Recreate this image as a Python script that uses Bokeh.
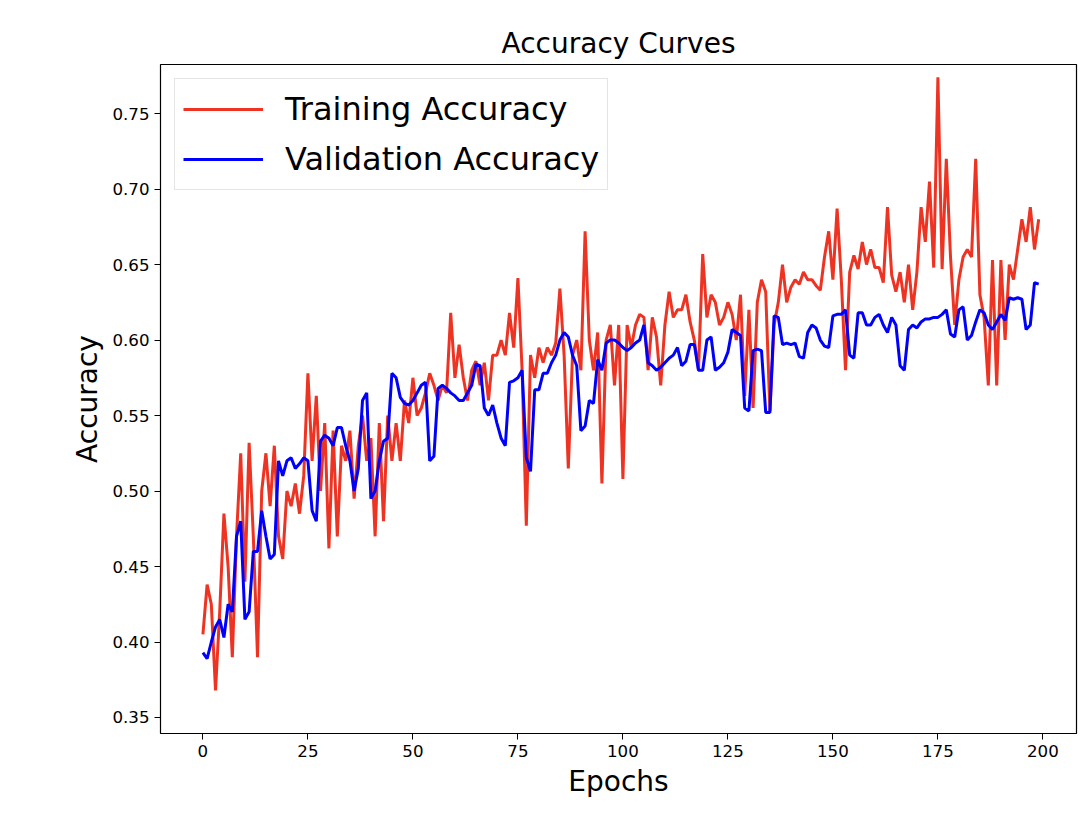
from bokeh.plotting import figure
from bokeh.models import Range1d, Legend, LegendItem, FixedTicker, CustomJSTickFormatter
from bokeh.embed import file_html
from bokeh.resources import INLINE

train_acc = [.405,.438,.425,.368,.42,.485,.45,.39,.47,.525,.44,.532,.47,.39,.50,.525,.49,.53,.47,.455,
.50,.49,.505,.485,.51,.578,.52,.563,.50,.545,.462,.54,.47,.53,.52,.54,.495,.53,.55,.52,
.535,.47,.545,.48,.55,.52,.545,.52,.56,.545,.575,.55,.555,.565,.578,.57,.56,.57,.565,.618,
.575,.597,.575,.56,.58,.586,.57,.585,.56,.59,.59,.60,.59,.618,.595,.641,.58,.477,.59,.575,
.595,.585,.595,.59,.598,.634,.59,.515,.59,.60,.58,.672,.60,.58,.605,.505,.60,.61,.57,.61,
.508,.61,.595,.61,.617,.615,.58,.615,.602,.57,.61,.632,.615,.62,.62,.63,.612,.60,.58,.657,
.615,.63,.625,.61,.615,.625,.617,.60,.63,.563,.62,.555,.625,.64,.632,.553,.61,.625,.65,.625,
.635,.64,.637,.645,.64,.64,.636,.633,.655,.672,.64,.687,.64,.58,.645,.656,.647,.665,.65,.66,
.648,.648,.638,.688,.643,.632,.645,.625,.65,.62,.645,.688,.665,.705,.648,.774,.647,.72,.655,.61,
.64,.655,.66,.655,.72,.63,.615,.57,.653,.57,.653,.60,.65,.64,.66,.68,.665,.688,.66,.68]

val_acc = [.393,.389,.40,.41,.415,.403,.425,.42,.47,.48,.415,.42,.46,.46,.487,.47,.455,.458,.52,.51,
.52,.522,.515,.518,.522,.52,.487,.48,.533,.537,.535,.53,.542,.542,.53,.52,.50,.515,.56,.565,
.495,.50,.52,.533,.535,.578,.575,.562,.558,.557,.56,.565,.57,.572,.52,.523,.568,.57,.568,.565,
.563,.56,.56,.565,.57,.584,.583,.555,.55,.557,.545,.535,.53,.572,.573,.575,.58,.522,.513,.567,
.567,.578,.578,.585,.59,.60,.605,.602,.59,.583,.54,.543,.56,.558,.587,.58,.598,.60,.60,.598,
.595,.593,.595,.598,.60,.61,.585,.583,.58,.582,.585,.588,.59,.595,.583,.586,.597,.597,.58,.58,
.60,.602,.58,.582,.585,.592,.607,.605,.603,.555,.553,.593,.594,.593,.552,.552,.616,.615,.597,.598,
.597,.598,.589,.588,.605,.61,.608,.60,.596,.595,.616,.617,.617,.62,.59,.588,.618,.618,.61,.61,
.615,.617,.61,.605,.615,.61,.583,.58,.607,.61,.608,.612,.614,.614,.615,.615,.617,.62,.604,.602,
.62,.622,.60,.603,.612,.62,.618,.61,.607,.612,.617,.613,.628,.627,.628,.627,.607,.61,.638,.637]

epochs = list(range(len(train_acc)))
x_ticks = [0, 25, 50, 75, 100, 125, 150, 175, 200]
y_ticks = [0.35, 0.40, 0.45, 0.50, 0.55, 0.60, 0.65, 0.70, 0.75]

p = figure(width=1080, height=800, output_backend="svg", toolbar_location=None,
           x_range=Range1d(-10.1, 208.0), y_range=Range1d(0.3394, 0.7825),
           title="Accuracy Curves", min_border_left=160, min_border_right=4,
           min_border_top=64, min_border_bottom=66)
p.title.align = "center"
p.title.text_font = "DejaVu Sans"
p.title.text_font_size = "21pt"
p.title.text_font_style = "normal"
p.title.text_color = "black"
p.xgrid.visible = False
p.ygrid.visible = False
p.outline_line_color = "black"
p.outline_line_width = 1.2

r1 = p.line(epochs, train_acc, line_color="#ee3322", line_width=3)
r2 = p.line(epochs, val_acc, line_color="#0000ff", line_width=3)

for ax in (p.xaxis[0], p.yaxis[0]):
    ax.minor_tick_line_color = None
    ax.major_tick_out = 6
    ax.major_tick_in = 0
    ax.major_tick_line_color = "black"
    ax.major_label_text_font = "DejaVu Sans"
    ax.major_label_text_font_size = "12.5pt"
    ax.major_label_text_color = "black"
    ax.axis_label_text_font = "DejaVu Sans"
    ax.axis_label_text_font_size = "21pt"
    ax.axis_label_text_font_style = "normal"
    ax.axis_label_text_color = "black"
    ax.axis_line_color = None
p.xaxis.ticker = FixedTicker(ticks=x_ticks)
p.yaxis.ticker = FixedTicker(ticks=y_ticks)
p.yaxis.formatter = CustomJSTickFormatter(code="return tick.toFixed(2);")
p.xaxis.axis_label = "Epochs"
p.yaxis.axis_label = "Accuracy"

legend = Legend(items=[LegendItem(label="Training Accuracy", renderers=[r1]),
                       LegendItem(label="Validation Accuracy", renderers=[r2])],
                location="top_left")
legend.label_text_font = "DejaVu Sans"
legend.label_text_font_size = "24pt"
legend.label_text_color = "black"
legend.glyph_width = 80
legend.glyph_height = 44
legend.label_height = 44
legend.label_standoff = 22
legend.border_line_color = "#cccccc"
legend.border_line_width = 1.5
legend.padding = 8
legend.spacing = 6
legend.margin = 14
p.add_layout(legend)

open("out.html", "w").write(file_html(p, INLINE))
